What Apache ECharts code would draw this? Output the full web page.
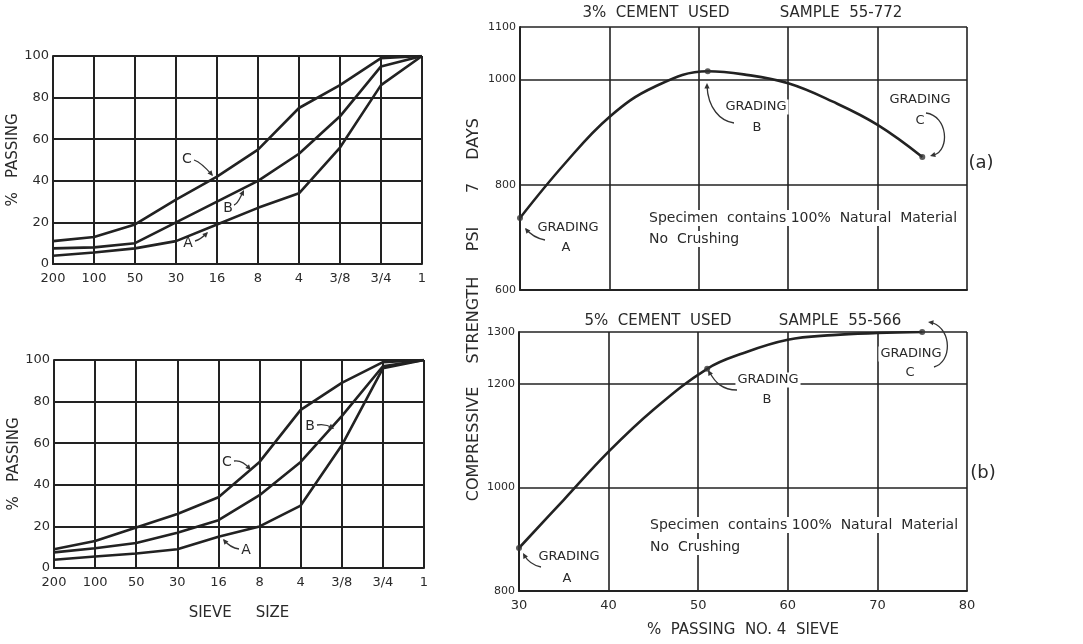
<!DOCTYPE html>
<html>
<head>
<meta charset="utf-8">
<script src="https://cdn.jsdelivr.net/npm/echarts@6/dist/echarts.min.js"></script>
<style>
html,body{margin:0;padding:0;background:#fff;}
#c{width:1083px;height:644px;}
</style>
</head>
<body>
<div id="c"></div>
<script>
// ---- data ----
var sieveLabels = ['200','100','50','30','16','8','4','3/8','3/4','1'];
var topA = [4, 5.5, 7.5, 11, 19, 27, 34, 56, 86, 100];
var topB = [7.5, 8, 10, 20, 30, 40, 53, 71, 95, 100];
var topC = [11, 13, 19, 31, 42, 55, 75, 86, 99, 100];
var botA = [4, 5.5, 7, 9, 15, 20, 30, 59, 96, 100];
var botB = [7.5, 9.5, 12, 17, 23, 35, 51, 73, 97, 100];
var botC = [9, 13, 19.5, 26, 34, 51, 76, 89, 99, 100];

var passX3 = [30, 35, 40, 45, 51, 55, 60, 65, 70, 75];
var strength3 = [737, 840, 929, 986, 1016, 1010, 993, 958, 914, 853];
var gradeX3 = [30, 51, 75];
var gradeY3 = [737, 1016, 853];

var passX5 = [30, 35, 40, 45, 51, 55, 60, 65, 70, 75];
var strength5 = [883, 976, 1069, 1150, 1229, 1259, 1285, 1294, 1298, 1300];
var gradeX5 = [30, 51, 75];
var gradeY5 = [883, 1229, 1300];

// ---- helpers ----
function pairs(xs, ys){ return xs.map(function(x,i){ return [x, ys[i]]; }); }
var INK = '#222';
var TXT = '#2a2a2a';
var FONT = '"DejaVu Sans", sans-serif';
function plain(v){ return String(v); }

function leftX(gi, showName){
  return {
    type:'category', gridIndex:gi, data:sieveLabels, boundaryGap:false,
    axisLine:{lineStyle:{color:INK, width:2}}, axisTick:{show:false},
    axisLabel:{color:TXT, fontSize:13, fontFamily:FONT, margin:8, interval:0},
    splitLine:{show:true, lineStyle:{color:INK, width:2}},
    name: showName ? 'SIEVE     SIZE' : '', nameLocation:'middle', nameGap:38,
    nameTextStyle:{color:TXT, fontSize:15, fontFamily:FONT}
  };
}
function leftY(gi){
  return {
    type:'value', gridIndex:gi, min:0, max:100, interval:20,
    axisLine:{show:true, lineStyle:{color:INK, width:2}}, axisTick:{show:false},
    axisLabel:{color:TXT, fontSize:13, fontFamily:FONT, margin:4},
    splitLine:{show:true, lineStyle:{color:INK, width:2}},
    name:'%   PASSING', nameLocation:'middle', nameGap:29, nameRotate:90,
    nameTextStyle:{color:TXT, fontSize:15, fontFamily:FONT}
  };
}
function rightX(gi, showName, showLabels){
  return {
    type:'value', gridIndex:gi, min:30, max:80, interval:10,
    axisLine:{lineStyle:{color:INK, width:2}}, axisTick:{show:false},
    axisLabel:{show:showLabels, color:TXT, fontSize:13, fontFamily:FONT, margin:8},
    splitLine:{show:true, lineStyle:{color:INK, width:1.6}},
    name: showName ? '%  PASSING  NO. 4  SIEVE' : '', nameLocation:'middle', nameGap:32,
    nameTextStyle:{color:TXT, fontSize:15, fontFamily:FONT}
  };
}
function rightY(gi, mn, mx){
  return {
    type:'value', gridIndex:gi, min:mn, max:mx, interval:200,
    axisLine:{show:true, lineStyle:{color:INK, width:2}}, axisTick:{show:false},
    axisLabel:{color:TXT, fontSize:11, fontFamily:FONT, margin:4, showMaxLabel:true, formatter:plain},
    splitLine:{show:true, lineStyle:{color:INK, width:1.6}}
  };
}
function gline(xi, data){
  return {type:'line', xAxisIndex:xi, yAxisIndex:xi, data:data, showSymbol:false,
    lineStyle:{color:INK, width:2.6}, smooth:false, silent:true, z:3};
}
function curve(xi, data){
  return {type:'line', xAxisIndex:xi, yAxisIndex:xi, data:data, showSymbol:false,
    lineStyle:{color:INK, width:2.6}, smooth:0.4, silent:true, z:3};
}
function dots(xi, data){
  return {type:'scatter', xAxisIndex:xi, yAxisIndex:xi, data:data, symbolSize:6,
    itemStyle:{color:'#333'}, silent:true, z:4};
}

// ---- annotation graphics ----
function txt(s, x, y, size, bg){
  return {type:'text', x:x, y:y, z:10, silent:true, style:{text:s, fill:TXT, font: size+'px '+FONT,
    align:'center', verticalAlign:'middle', backgroundColor: bg ? '#fff' : null, padding: bg ? [1,2] : 0}};
}
function txtL(s, x, y, size, bg){
  return {type:'text', x:x, y:y, z:10, silent:true, style:{text:s, fill:TXT, font: size+'px '+FONT,
    align:'left', verticalAlign:'middle', backgroundColor: bg ? '#fff' : null, padding: bg ? [1,3] : 0}};
}
function bez(x1,y1,cx1,cy1,cx2,cy2,x2,y2){
  return {type:'bezierCurve', z:10, silent:true,
    shape:{x1:x1,y1:y1,cpx1:cx1,cpy1:cy1,cpx2:cx2,cpy2:cy2,x2:x2,y2:y2},
    style:{stroke:'#333', lineWidth:1.3, fill:null}};
}
function head(x, y, fromX, fromY){
  var a = Math.atan2(y-fromY, x-fromX), L = 6, w = 0.45;
  return {type:'polygon', z:10, silent:true, shape:{points:[[x,y],
    [x - L*Math.cos(a-w), y - L*Math.sin(a-w)], [x - L*Math.cos(a+w), y - L*Math.sin(a+w)]]},
    style:{fill:'#333'}};
}
function rot(s, x, y, size){
  return {type:'text', x:x, y:y, rotation:Math.PI/2, z:10, silent:true,
    style:{text:s, fill:TXT, font:size+'px '+FONT, align:'center', verticalAlign:'middle'}};
}

var graphics = [
  // top-left labels
  txt('C',187,159,14), bez(194,160,200,162,206,168,212,175), head(213,176,207,169),
  txt('B',228,208,14), bez(234,205,238,204,240,198,243,192), head(244,190,240,198),
  txt('A',188,243,14), bez(195,241,199,240,203,237,207,233), head(208,232,203,237),
  // bottom-left labels
  txt('C',227,462,14), bez(234,461,240,460,245,463,250,469), head(251,470,245,464),
  txt('B',310,426,14), bez(317,425,322,424,328,425,333,428), head(334,429,328,425),
  txt('A',246,550,14), bez(239,549,232,548,228,545,224,540), head(223,539,228,545),

  // top-right
  txt('3%  CEMENT  USED',656,13,15), txt('SAMPLE  55-772',841,13,15),
  txt('GRADING',568,228,13,true), txt('A',566,248,13,true),
  bez(545,240,535,238,530,234,526,229), head(525,228,530,234),
  txt('GRADING',756,107,13,true), txt('B',757,128,13,true),
  bez(734,123,720,121,708,108,707,86), head(707,83,707,92),
  txt('GRADING',920,100,13,true), txt('C',920,121,13,true),
  bez(926,113,948,116,950,150,934,155), head(930,156,937,154),
  txtL('Specimen  contains 100%  Natural  Material',646,218,14,true),
  txtL('No  Crushing',646,239,14,true),
  txt('(a)',981,163,18),

  // bottom-right
  txt('5%  CEMENT  USED',658,321,15), txt('SAMPLE  55-566',840,321,15),
  txt('GRADING',569,557,13,true), txt('A',567,579,13,true),
  bez(541,567,531,565,527,560,524,555), head(523,553,527,560),
  txt('GRADING',768,380,13,true), txt('B',767,400,13,true),
  bez(737,390,722,390,715,382,710,373), head(708,370,712,377),
  txt('GRADING',911,354,13,true), txt('C',910,373,13,true),
  bez(934,367,952,362,952,330,933,323), head(928,322,935,323),
  txtL('Specimen  contains 100%  Natural  Material',647,525,14,true),
  txtL('No  Crushing',647,547,14,true),
  txt('(b)',983,473,18),

  // shared y-axis title
  rot('DAYS',474,139,16), rot('7',474,188,16), rot('PSI',474,239,16),
  rot('STRENGTH',474,320,16), rot('COMPRESSIVE',474,444,16)
];

var chart = echarts.init(document.getElementById('c'), null, {renderer:'canvas'});
chart.setOption({
  animation:false,
  backgroundColor:'#fff',
  grid:[
    {left:53, top:56, width:369, height:208},
    {left:54, top:360, width:370, height:208},
    {left:520, top:27, width:447, height:263},
    {left:519, top:332, width:448, height:259}
  ],
  xAxis:[leftX(0,false), leftX(1,true), rightX(2,false,false), rightX(3,true,true)],
  yAxis:[leftY(0), leftY(1), rightY(2,600,1100), rightY(3,800,1300)],
  series:[
    gline(0, topA), gline(0, topB), gline(0, topC),
    gline(1, botA), gline(1, botB), gline(1, botC),
    curve(2, pairs(passX3, strength3)), dots(2, pairs(gradeX3, gradeY3)),
    curve(3, pairs(passX5, strength5)), dots(3, pairs(gradeX5, gradeY5))
  ],
  graphic:graphics
});
</script>
</body>
</html>
